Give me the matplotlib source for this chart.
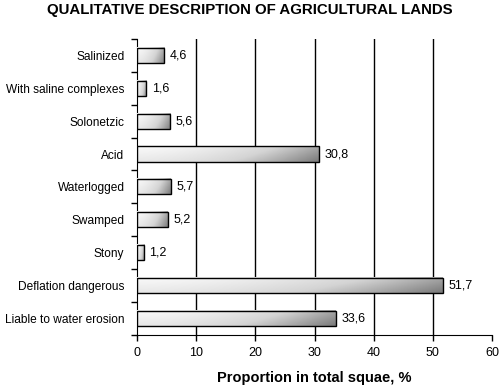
import numpy as np
import matplotlib
matplotlib.use('Agg')
from matplotlib import pyplot as plt
from matplotlib.colors import LinearSegmentedColormap

categories = ['Salinized', 'With saline complexes', 'Solonetzic', 'Acid', 'Waterlogged',
              'Swamped', 'Stony', 'Deflation dangerous', 'Liable to water erosion']
values = [4.6, 1.6, 5.6, 30.8, 5.7, 5.2, 1.2, 51.7, 33.6]
x_ticks = [0, 10, 20, 30, 40, 50, 60]

plt.rcParams['font.family'] = ['Liberation Sans', 'DejaVu Sans']

fig = plt.figure(figsize=(5, 3.85), dpi=100)
ax = fig.add_axes([0.274, 0.130, 0.710, 0.769])

n = len(categories)
ypos = np.arange(n)[::-1]
bar_h = 0.46

# gradient: light at top-left, darker towards bottom-right
cmap = LinearSegmentedColormap.from_list('g', ['#fafafa', '#d4d4d4', '#7a7a7a'])
gx = np.linspace(0, 1, 200)
gy = np.linspace(0, 1, 20)
grad = 0.75 * gx[None, :] ** 1.6 + 0.25 * gy[:, None]

for y, v in zip(ypos, values):
    ax.imshow(grad, cmap=cmap, vmin=0, vmax=1, aspect='auto', origin='upper',
              extent=[0, v, y - bar_h / 2, y + bar_h / 2], zorder=3, interpolation='bilinear')
ax.barh(ypos, values, height=bar_h, fill=False, edgecolor='black', linewidth=1, zorder=4)

for y, v in zip(ypos, values):
    ax.text(v + 0.9, y, f'{v:.1f}'.replace('.', ','), va='center', ha='left', fontsize=9, zorder=5)

ax.set_xlim(0, 60)
ax.set_ylim(-0.5, n - 0.5)
ax.set_xticks(x_ticks)
ax.set_xticklabels([str(t) for t in x_ticks], fontsize=9)
for t in x_ticks[1:-1]:
    ax.axvline(t, color='black', linewidth=1, zorder=1)

ax.set_yticks(np.arange(n + 1) - 0.5)
ax.set_yticklabels([])
ax.set_yticks(ypos, minor=True)
ax.set_yticklabels(categories, minor=True, fontsize=8.6)
ax.tick_params(axis='y', which='major', direction='out', length=4, width=1)
ax.tick_params(axis='y', which='minor', length=0, pad=9)
ax.tick_params(axis='x', direction='out', length=4, width=1, pad=5)

ax.spines['top'].set_visible(False)
ax.spines['right'].set_visible(False)

ax.set_xlabel('Proportion in total squae, %', fontsize=10.5, fontweight='bold', labelpad=8)
fig.text(0.5, 0.993, 'QUALITATIVE DESCRIPTION OF AGRICULTURAL LANDS', ha='center', va='top',
         fontsize=10.8, fontweight='bold')

fig.savefig('out.png', dpi=100)
